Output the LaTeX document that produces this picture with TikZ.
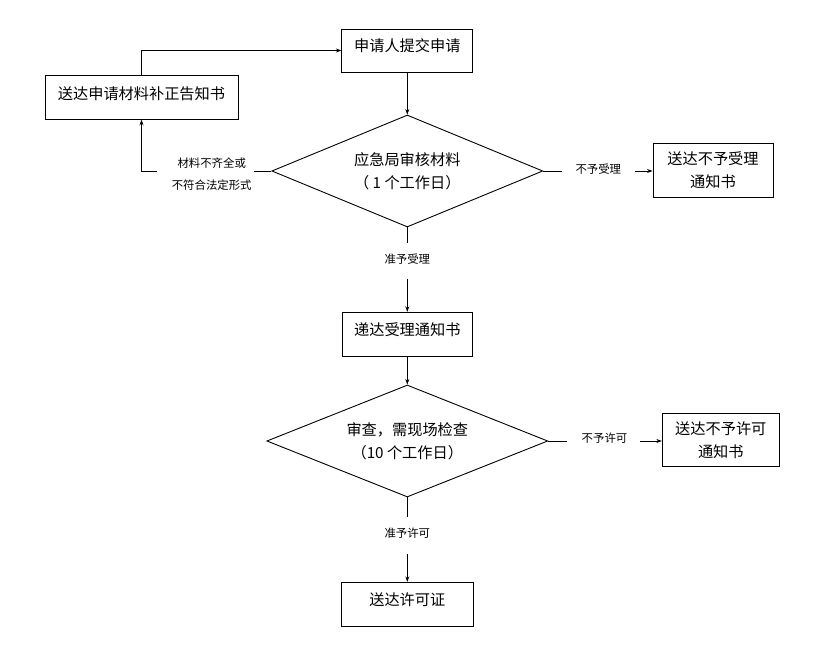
\documentclass[tikz,border=0pt]{standalone}
\usepackage{fontspec}
\setmainfont{Noto Sans CJK SC}
\usetikzlibrary{shapes.geometric,arrows.meta}
\newcommand{\mainfnt}{\fontsize{15.2pt}{23pt}\selectfont}
\newcommand{\smallfnt}{\fontsize{11.4pt}{22.3pt}\selectfont}
\begin{document}
\begin{tikzpicture}[x=1pt,y=-1pt,
  box/.style={draw,line width=0.9pt,inner sep=0pt,align=center,font=\mainfnt},
  boxtxt/.style={inner sep=0pt,font=\mainfnt},
  dia/.style={draw,diamond,aspect=2.4,line width=0.9pt,inner sep=0pt,align=center,font=\mainfnt},
  lbl/.style={inner sep=0pt,align=center,font=\smallfnt},
  conn/.style={line width=0.75pt},
  arr/.style={conn,-{Stealth[length=5.5pt,width=4pt]}}]
\useasboundingbox (0,0) rectangle (822,647);

% boxes
\node[box,minimum width=131pt,minimum height=43pt] (A) at (407.3,50.5) {};
\node[boxtxt] (Atxt) at (407.3,45.5) {申请人提交申请};
\node[box,minimum width=193pt,minimum height=43.6pt] (B) at (141.5,97.5) {};
\node[boxtxt] (Btxt) at (141.5,93.3) {送达申请材料补正告知书};
\node[box,minimum width=120pt,minimum height=54pt] (R1) at (713,170) {送达不予受理\\通知书};
\node[box,minimum width=129.5pt,minimum height=44.5pt] (C) at (407.3,334.5) {};
\node[boxtxt] (Ctxt) at (407.3,329.5) {递达受理通知书};
\node[box,minimum width=117pt,minimum height=53.4pt] (R2) at (720.8,440) {送达不予许可\\通知书};
\node[box,minimum width=131.4pt,minimum height=43.7pt] (E) at (407.3,604.2) {};
\node[boxtxt] (Etxt) at (407.3,599.3) {送达许可证};

% diamonds
\node[dia,minimum width=271pt,minimum height=112pt] (D1) at (407.3,171) {应急局审核材料\\（ 1 个工作日）};
\node[dia,minimum width=281pt,minimum height=112pt] (D2) at (407.3,441) {审查，需现场检查\\（10 个工作日）};

% labels
\node[lbl] (LL) at (211.7,174) {材料不齐全或\\不符合法定形式};
\node[lbl] (RL1) at (598.3,169.3) {不予受理};
\node[lbl] (DL1) at (407.3,259) {准予受理};
\node[lbl] (RL2) at (604.5,438.3) {不予许可};
\node[lbl] (DL2) at (407.3,533.3) {准予许可};

% gap coordinates
\coordinate (c1a) at (561.7,171);
\coordinate (c1b) at (635,171);
\coordinate (c2a) at (254,171);
\coordinate (c2b) at (157,171);
\coordinate (c3a) at (407.3,242.7);
\coordinate (c3b) at (407.3,279.3);
\coordinate (c4a) at (566.7,441);
\coordinate (c4b) at (640,441);
\coordinate (c5a) at (407.3,517.3);
\coordinate (c5b) at (407.3,554);

% connectors
\draw[arr] (B.north) |- (A.west);
\draw[arr] (A.south) -- (D1.north);
\draw[conn] (D1.west) -- (c2a);
\draw[arr] (c2b) -| (B.south);
\draw[conn] (D1.east) -- (c1a);
\draw[arr] (c1b) -- (c1b -| R1.west);
\draw[conn] (D1.south) -- (c3a);
\draw[arr] (c3b) -- (C.north);
\draw[arr] (C.south) -- (D2.north);
\draw[conn] (D2.east) -- (c4a);
\draw[arr] (c4b) -- (c4b -| R2.west);
\draw[conn] (D2.south) -- (c5a);
\draw[arr] (c5b) -- (E.north);
\end{tikzpicture}
\end{document}
